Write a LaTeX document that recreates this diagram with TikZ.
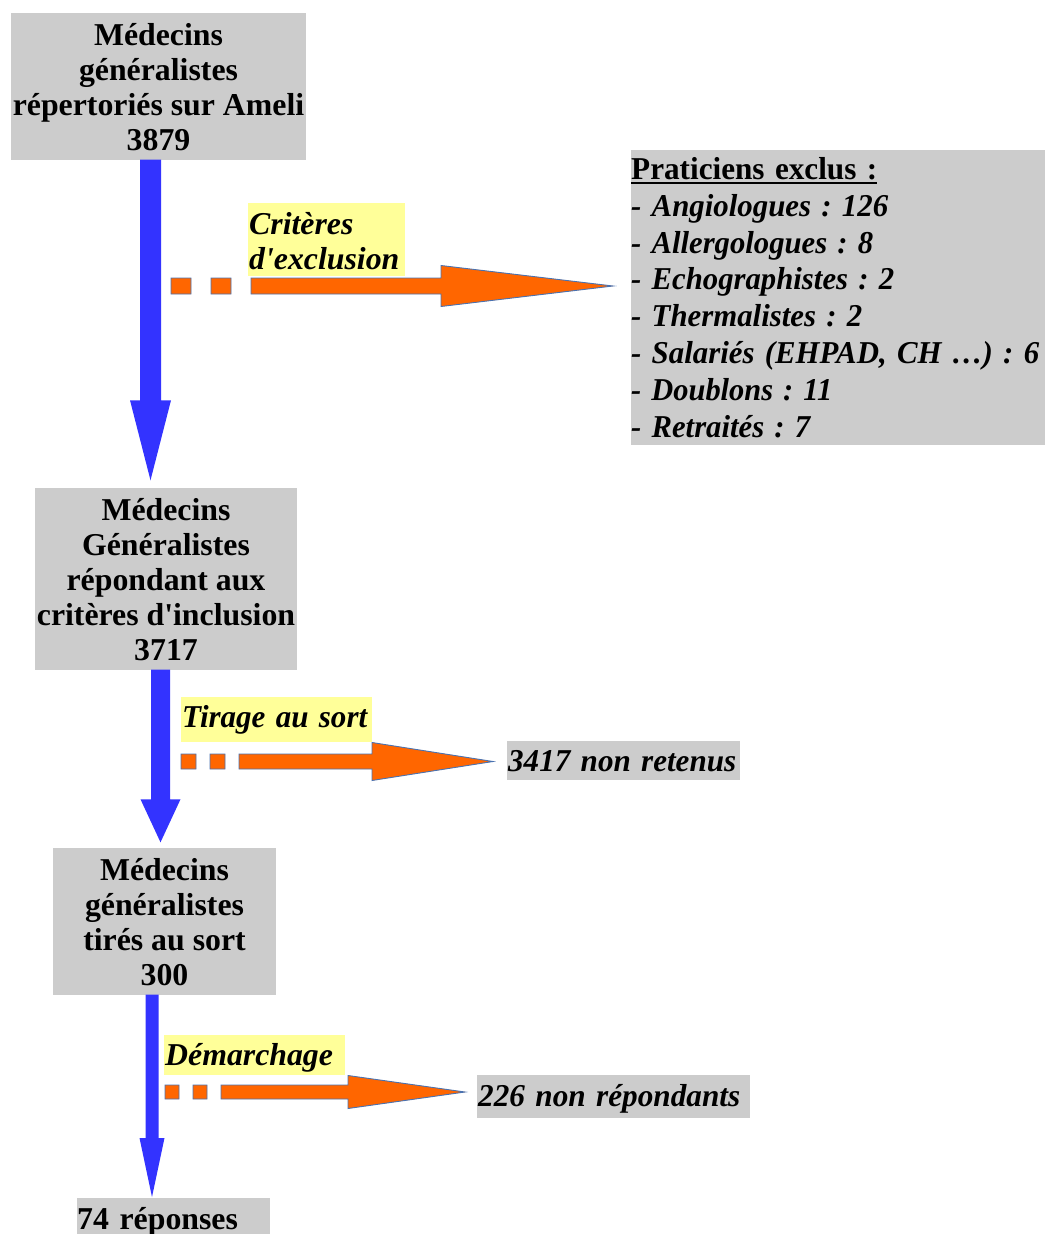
\documentclass[tikz,border=0pt]{standalone}
\usepackage{fontspec}
\usepackage{graphicx}
\usetikzlibrary{calc}
\newfontfamily\lib{Liberation Serif}
\definecolor{boxgray}{HTML}{CCCCCC}
\definecolor{labyellow}{HTML}{FFFF99}
\definecolor{arrblue}{HTML}{3333FF}
\definecolor{arrorange}{HTML}{FF6600}
\definecolor{arredge}{HTML}{4A72B0}
\lineskiplimit=-100pt
\frenchspacing
\hbadness=10000 \hfuzz=100pt
\newcommand\sx{\rule[-5.7pt]{0pt}{35pt}}
\newcommand\sy{\rule[-7.9pt]{0pt}{36.9pt}}
\newcommand\fitw[2]{\resizebox{#1pt}{\height}{#2}}
\newcommand\itx[2]{\fitw{#1}{\itshape #2}}
\newsavebox\ulbox
\newcommand\ulx[1]{\sbox\ulbox{#1}\rlap{\rule[-4.5pt]{\wd\ulbox}{1.8pt}}\usebox\ulbox}
% blue block arrow: start, tip, shaft half-width, head half-width, head length
\newcommand\barrow[5]{%
  \fill[barr] let \p1=#1, \p2=#2 in
    (\x1-#3pt,\y1) -- (\x1-#3pt,\y2+#5pt) -- (\x1-#4pt,\y2+#5pt) -- (\x1,\y2)
    -- (\x1+#4pt,\y2+#5pt) -- (\x1+#3pt,\y2+#5pt) -- (\x1+#3pt,\y1) -- cycle;}
% orange dashed block arrow: start, tip, square, gap, shaft half, head half, head length
\newcommand\oarrow[7]{%
  \draw[oarr] let \p1=#1, \p2=#2 in
    (\x1,\y1-#5pt) rectangle (\x1+#3pt,\y1+#5pt)
    (\x1+#3pt+#4pt,\y1-#5pt) rectangle (\x1+2*#3pt+#4pt,\y1+#5pt)
    (\x1+2*#3pt+2*#4pt,\y1-#5pt) -- (\x2-#7pt,\y1-#5pt) -- (\x2-#7pt,\y1-#6pt)
    -- (\x2,\y1) -- (\x2-#7pt,\y1+#6pt) -- (\x2-#7pt,\y1+#5pt)
    -- (\x1+2*#3pt+2*#4pt,\y1+#5pt) -- cycle;}
\tikzset{
  gbox/.style={fill=boxgray, inner xsep=0pt, inner ysep=3.5pt, align=center,
    font=\lib\fontsize{31.8}{35}\selectfont\bfseries\frenchspacing},
  gline/.style={fill=boxgray, inner xsep=1pt, inner ysep=0pt, align=left, anchor=north west,
    font=\lib\fontsize{31.8}{35}\selectfont\bfseries\itshape\frenchspacing},
  ylab/.style={fill=labyellow, inner xsep=1pt, inner ysep=0pt, align=left, anchor=north west,
    font=\lib\fontsize{31.8}{35}\selectfont\bfseries\itshape\frenchspacing},
  barr/.style={fill=arrblue},
  oarr/.style={fill=arrorange, draw=arredge, line width=0.9pt, line join=miter},
}
\begin{document}
\begin{tikzpicture}[x=1pt,y=-1pt]
\useasboundingbox (0,0) rectangle (1045,1234);
\clip (0,0) rectangle (1045,1234);
% main boxes
\node[gbox, minimum width=295pt] (b1) at (158.5,86)
  {\sx Médecins\\ \sx généralistes\\ \sx répertoriés sur Ameli\\ \sx 3879};
\node[gbox, minimum width=262pt] (b2) at (166,578.5)
  {\sx Médecins\\ \sx Généralistes\\ \sx répondant aux\\ \sx critères d'inclusion\\ \sx 3717};
\node[gbox, minimum width=223pt] (b3) at (164.5,921)
  {\sx Médecins\\ \sx généralistes\\ \sx tirés au sort\\ \sx 300};
\node[gline, font=\lib\fontsize{31.8}{35}\selectfont\bfseries\frenchspacing, inner xsep=0pt,
  text width=193pt, text height=31pt, text depth=15pt] (b4) at (77,1198) {\mbox{74 réponses}};
% excluded list
\node[fill=boxgray, inner sep=0pt, anchor=north west, align=left, text width=414pt,
  font=\lib\fontsize{31.8}{36.9}\selectfont\bfseries\frenchspacing] (ex) at (631,150)
  {\sy\fitw{246}{\ulx{Praticiens exclus :}}\\
   \sy\itx{257}{- Angiologues : 126}\\
   \sy\itx{242}{- Allergologues : 8}\\
   \sy\itx{263}{- Echographistes : 2}\\
   \sy\itx{231}{- Thermalistes : 2}\\
   \sy\itx{408}{- Salariés (EHPAD, CH …) : 6}\\
   \sy\itx{201}{- Doublons : 11}\\
   \sy\itx{179}{- Retraités : 7}};
% side results
\node[gline, text width=231pt, text height=30pt, text depth=9pt] (nr) at (507,741) {\fitw{228}{3417 non retenus}};
\node[gline, text width=271pt, text height=31pt, text depth=12pt] (np) at (477,1075) {\fitw{262}{226 non répondants}};
% yellow labels
\node[ylab, inner ysep=1.5pt, text width=155pt] (l1) at (248,203) {\sx\mbox{Critères}\\ \sx\mbox{d'exclusion}};
\node[ylab, text width=189pt, text height=30pt, text depth=15pt] (l2) at (181,697) {\fitw{185}{Tirage au sort}};
\node[ylab, text width=179pt, text height=30pt, text depth=10pt] (l3) at (164,1035) {\mbox{Démarchage}};
% connector end points
\coordinate (a1s) at ($(b1.south)+(-8,0)$);
\coordinate (a1e) at ($(b2.north)+(0,-7)$);
\coordinate (a2s) at ($(b2.south)+(-5.5,0)$);
\coordinate (a2e) at ($(b3.north)+(0,-5)$);
\coordinate (a3s) at ($(b3.south)+(-12.5,0)$);
\coordinate (a3e) at ($(b4.north west)+(0,-1)$);
\coordinate (o1s) at (171,286);
\coordinate (o1e) at ($(ex.west)+(-18,0)$);
\coordinate (o2s) at (181,761.5);
\coordinate (o2e) at ($(nr.west)+(-14,0)$);
\coordinate (o3s) at (165,1092);
\coordinate (o3e) at ($(np.west)+(-12,0)$);
% blue flow arrows
\barrow{(a1s)}{(a1e)}{10.5}{20.5}{80}
\barrow{(a2s)}{(a2e)}{9.5}{20}{43}
\barrow{(a3s)}{(a3e)}{6.5}{12.5}{59}
% orange exclusion arrows
\oarrow{(o1s)}{(o1e)}{20}{20}{8}{20.5}{172}
\oarrow{(o2s)}{(o2e)}{15}{14}{7.5}{19}{121}
\oarrow{(o3s)}{(o3e)}{14}{14}{7}{16.5}{117}
\end{tikzpicture}
\end{document}
